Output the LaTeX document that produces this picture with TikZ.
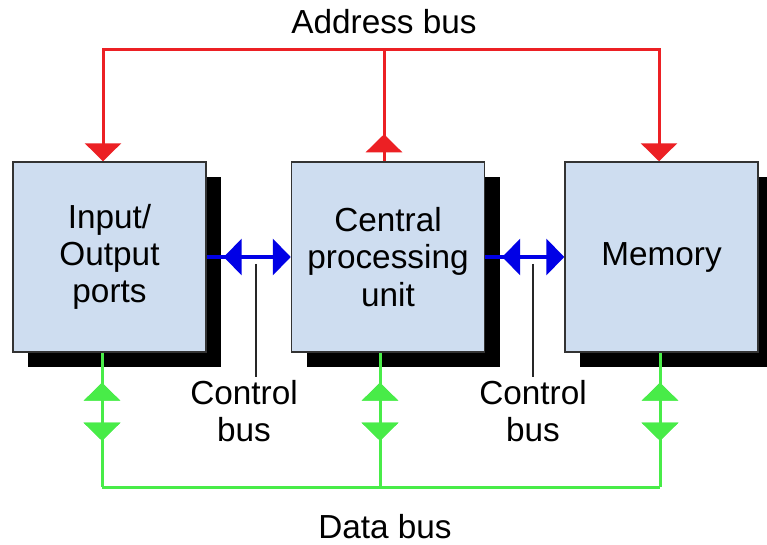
\documentclass[tikz,border=0pt]{standalone}
\usepackage{fontspec}
\setmainfont{Liberation Sans}
\usetikzlibrary{positioning, arrows.meta, shadows, decorations.markings}
\definecolor{boxblue}{RGB}{206,221,240}
\definecolor{busred}{RGB}{236,32,36}
\definecolor{busgreen}{RGB}{72,236,72}
\definecolor{busblue}{RGB}{0,0,230}
\tikzstyle{unit} = [rectangle, minimum width=144.75pt, minimum height=142.5pt, align=center, draw=black!80, line width=1.1pt, fill=boxblue, drop shadow={shadow xshift=11.25pt, shadow yshift=-11.25pt, fill=black, opacity=1}]
\tikzstyle{label} = [align=center, inner sep=2pt]
\tikzstyle{addr} = [line width=2.25pt, draw=busred]
\tikzstyle{ctrl} = [line width=3pt, draw=busblue]
\tikzstyle{data} = [line width=2.25pt, draw=busgreen]
\tikzstyle{pointer} = [line width=1.1pt, draw=black!85]
\tikzset{
  tipat/.style={postaction={decorate}, decoration={markings, mark=at position #1 with {\arrow{Triangle[length=13.5pt,width=27pt]}}}},
  backtipat/.style={postaction={decorate}, decoration={markings, mark=at position #1 with {\arrowreversed{Triangle[length=13.5pt,width=27pt]}}}},
  endtip/.style={-{Triangle[length=13.5pt,width=27pt]}}
}

\begin{document}
\begin{tikzpicture}[x=0.75pt, y=-0.75pt, font=\fontsize{25}{28}\selectfont]
\useasboundingbox (0,0) rectangle (767,545);
\fill[white] (0,0) rectangle (767,545);
\begin{scope}
\clip (0,0) rectangle (767,545);
\node (io) [unit] at (109.5,257) {Input/\\Output\\ports};
\node (cpu) [unit] at (388,257) {Central\\processing\\unit};
\node (mem) [unit] at (661.5,257) {Memory};
\end{scope}

% address bus
\node (addrlbl) [label] at (384,22) {Address bus};
\coordinate (a1) at (103,50);
\coordinate (a2) at (384,50);
\coordinate (a3) at (659,50);
\draw [addr, endtip] (a2) -| (a1) -- (a1 |- io.north);
\draw [addr, endtip] (a2) -| (a3) -- (a3 |- mem.north);
\draw [addr, tipat=20.25pt] (a2 |- cpu.north) -- (a2);

% control bus
\draw [ctrl, endtip, backtipat=12.75pt] (io.east) -- (cpu.west);
\draw [ctrl, endtip, backtipat=12.75pt] (cpu.east) -- (mem.west);
\node (ctl1) [label] at (244,411) {Control\\bus};
\node (ctl2) [label] at (533,411) {Control\\bus};
\coordinate (p1) at (256,264);
\coordinate (p2) at (533,264);
\draw [pointer] (p1) -- (p1 |- ctl1.north);
\draw [pointer] (p2) -- (p2 |- ctl2.north);

% data bus
\node (datalbl) [label] at (385,527) {Data bus};
\coordinate (d1) at (102,487);
\coordinate (d2) at (380,487);
\coordinate (d3) at (660,487);
\draw [data] (d1) -- (d3);
\foreach \d/\u in {d1/io, d2/cpu, d3/mem}
  \draw [data, backtipat=22.5pt, tipat=66pt] (\d |- \u.south) -- (\d);
\end{tikzpicture}
\end{document}
